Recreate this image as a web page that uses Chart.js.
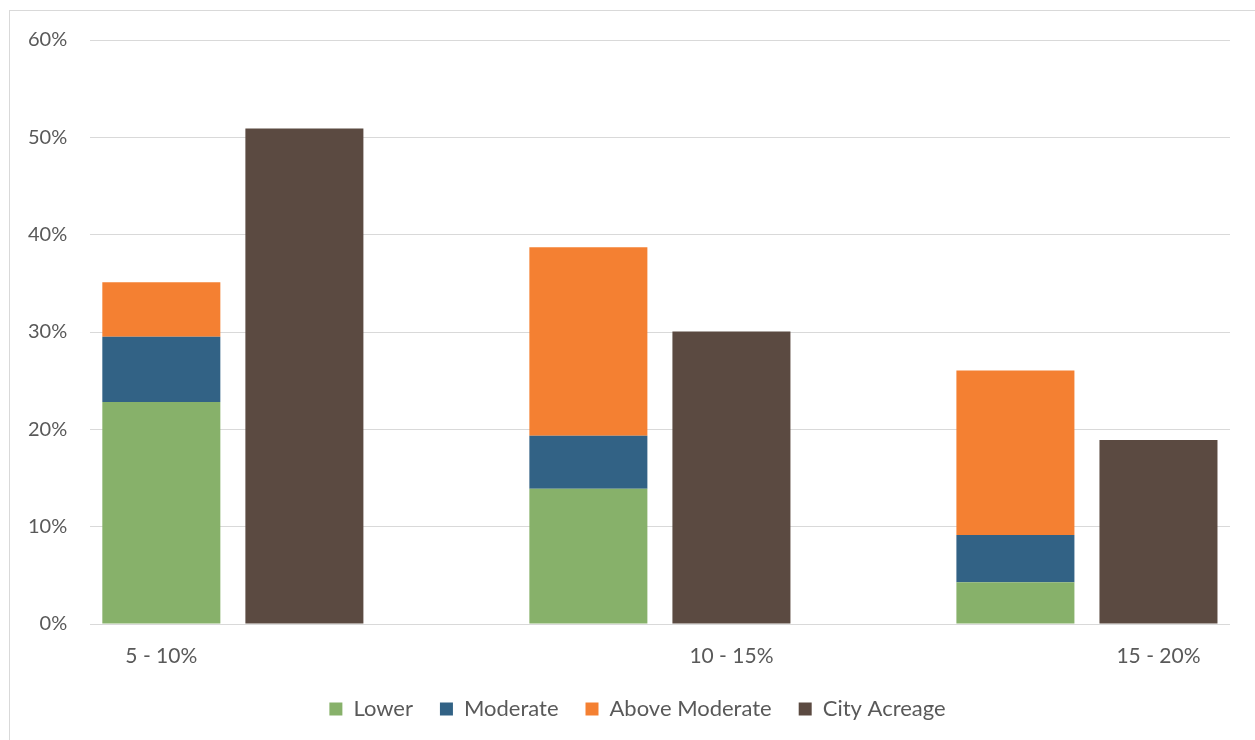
<!DOCTYPE html>
<html>
<head>
<meta charset="utf-8">
<script src="https://cdn.jsdelivr.net/npm/chart.js@4"></script>
<style>
  body { margin: 0; background: #fff; }
  #wrap { width: 1255px; height: 740px; }
</style>
</head>
<body>
<div id="wrap"><canvas id="mychart1" width="1255" height="740"></canvas></div>
<script>
const categories = ['5 - 10%', '10 - 15%', '15 - 20%'];
const lower = [22.8, 13.9, 4.3];
const moderate = [6.7, 5.45, 4.85];
const aboveModerate = [5.6, 19.35, 16.9];
const cityAcreage = [50.9, 30.05, 18.9];
const yTicks = [0, 10, 20, 30, 40, 50, 60];

// which bar each category label sits under (same as the original picture)
const labelUnder = [0, 3, 3];

const txt = '#595959';
const fontFam = 'Lato, "Noto Sans", sans-serif';

const pts = arr => arr.map((v, i) => ({ x: i, y: v }));

const frame = {
    id: 'frame',
    beforeDraw(chart) {
        const c = chart.ctx;
        c.save();
        c.fillStyle = '#fff';
        c.fillRect(0, 0, chart.width, chart.height);
        c.strokeStyle = '#d9d9d9';
        c.lineWidth = 1;
        c.strokeRect(9.5, 10.5, chart.width, chart.height);
        c.restore();
    },
    afterLayout(chart) {
        // legend sits a little right of centre in the original
        chart.legend.left += 20;
        chart.legend.right += 20;
    },
    afterDatasetsDraw(chart) {
        const c = chart.ctx;
        c.save();
        c.fillStyle = txt;
        c.font = '21px ' + fontFam;
        c.textAlign = 'center';
        c.textBaseline = 'middle';
        const yPos = chart.chartArea.bottom + 32;
        categories.forEach((lab, i) => {
            const bar = chart.getDatasetMeta(labelUnder[i]).data[i];
            c.fillText(lab, bar.x, yPos);
        });
        c.restore();
    }
};

new Chart(mychart1, {
    type: 'bar',
    data: {
        datasets: [
            { label: 'Lower', data: pts(lower), backgroundColor: '#87b16a', stack: 'a' },
            { label: 'Moderate', data: pts(moderate), backgroundColor: '#326285', stack: 'a' },
            { label: 'Above Moderate', data: pts(aboveModerate), backgroundColor: '#f48032', stack: 'a' },
            { label: 'City Acreage', data: pts(cityAcreage), backgroundColor: '#5b4a41', stack: 'b' },
        ],
    },
    options: {
        responsive: false,
        animation: false,
        categoryPercentage: 0.67,
        barPercentage: 0.825,
        layout: { padding: { top: 40, right: 25, bottom: 10, left: 5 } },
        plugins: {
            tooltip: { enabled: false },
            legend: {
                position: 'bottom',
                labels: {
                    color: txt,
                    font: { family: fontFam, size: 22 },
                    boxWidth: 13,
                    boxHeight: 13,
                    padding: 27,
                },
            },
        },
        scales: {
            x: {
                type: 'linear',
                stacked: true,
                offset: false,
                min: -0.334,
                max: 2.335,
                afterBuildTicks(scale) { scale.ticks = categories.map((c, i) => ({ value: i })); },
                grid: { display: false },
                border: { display: false },
                ticks: { display: false },
                afterFit(scale) { scale.height = 47; },
            },
            y: {
                stacked: true,
                min: 0,
                max: 60,
                afterBuildTicks(scale) { scale.ticks = yTicks.map(v => ({ value: v })); },
                grid: { color: '#d9d9d9', lineWidth: 1, drawTicks: false },
                border: { display: false },
                ticks: {
                    color: txt,
                    font: { family: fontFam, size: 20 },
                    padding: 23,
                    callback: v => v + '%',
                },
            },
        },
    },
    plugins: [frame],
});
</script>
</body>
</html>
